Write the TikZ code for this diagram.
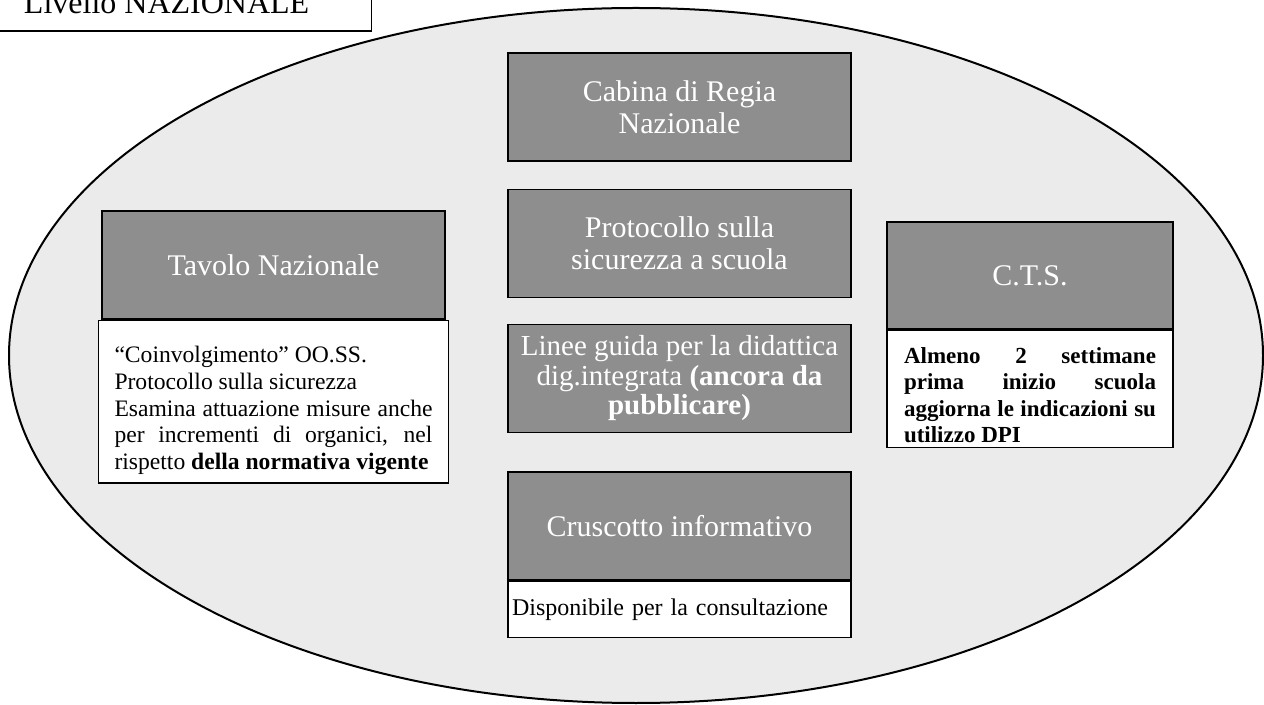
\documentclass[tikz,border=0pt]{standalone}
\usepackage{fontspec}
\setmainfont{Liberation Serif}
\usetikzlibrary{shapes.geometric,positioning}
\definecolor{boxgray}{HTML}{8E8E8E}
\definecolor{ovalgray}{HTML}{EBEBEB}

\begin{document}
\begin{tikzpicture}[x=0.5pt,y=-0.5pt,
 headbox/.style={draw,line width=0.75pt,fill=boxgray,text=white,align=center,minimum width=171.5pt,minimum height=54pt,inner sep=2pt,font=\fontsize{15}{16}\selectfont},
 notebox/.style={draw,line width=0.75pt,fill=white,anchor=north,font=\fontsize{11.8}{13.4}\selectfont},
 titlebox/.style={draw,line width=0.75pt,fill=white,inner xsep=31pt,inner ysep=8.5pt,font=\fontsize{16}{18}\selectfont}]
\useasboundingbox (0,0) rectangle (1264,705);
\clip (0,0) rectangle (1264,705);
\node[titlebox,anchor=south east] (livello) at (372,32) {Livello NAZIONALE};
\node[draw,line width=1pt,fill=ovalgray,ellipse,minimum width=627pt,minimum height=347.5pt,inner sep=0pt] (ovale) at (636,355.5) {};
% colonna centrale
\node[headbox] (cabina) at (679.5,107) {Cabina di Regia\\Nazionale};
\node[headbox] (protocollo) at (679.5,243.5) {Protocollo sulla\\sicurezza a scuola};
\node[headbox,font=\fontsize{14.5}{14.75}\selectfont] (linee) at (679.5,378.5) {Linee guida per la didattica\\dig.integrata \textbf{(ancora da}\\\textbf{pubblicare)}};
\node[headbox] (cruscotto) at (679.5,526) {Cruscotto informativo};
\node[notebox,minimum width=171.5pt,minimum height=28pt,inner sep=0pt,text width=167.5pt,align=left,font=\fontsize{12}{13.5}\selectfont] (consulta) at (cruscotto.south) {Disponibile per la consultazione};
% sinistra
\node[headbox] (tavolo) at (273.5,265) {Tavolo Nazionale};
\node[notebox,text width=159pt,inner xsep=8pt,inner ysep=4pt,text height=17pt,align=justify] (tavnote) at (tavolo.south) {“Coinvolgimento” OO.SS.\\Protocollo sulla sicurezza\\Esamina attuazione misure anche\linebreak per incrementi di organici, nel\linebreak rispetto \textbf{della normativa vigente}};
% destra
\node[headbox,minimum width=143pt,minimum height=53.5pt] (cts) at (1030,275.5) {C.T.S.};
\node[notebox,text width=126pt,inner xsep=8.5pt,inner ysep=2pt,text height=14.5pt,align=justify,font=\bfseries\fontsize{11.5}{13.25}\selectfont] (ctsnote) at (cts.south) {Almeno 2 settimane\linebreak prima inizio scuola\linebreak aggiorna le indicazioni su\linebreak utilizzo DPI};
\end{tikzpicture}
\end{document}
